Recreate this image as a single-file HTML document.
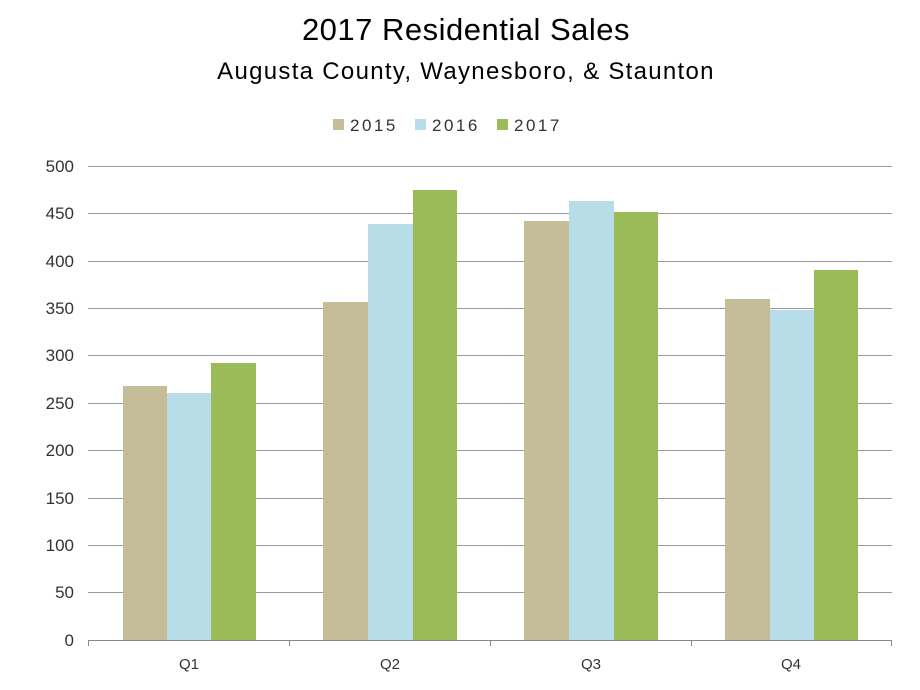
<!DOCTYPE html>
<html><head><meta charset="utf-8"><style>
body{margin:0;background:#fff;}
svg{display:block;font-family:"Liberation Sans",sans-serif;}
</style></head><body>
<svg width="920" height="690" viewBox="0 0 920 690">
<text x="466" y="40" text-anchor="middle" font-size="31" fill="#000" letter-spacing="0.5">2017 Residential Sales</text>
<text x="466" y="79" text-anchor="middle" font-size="24" fill="#000" letter-spacing="1.3">Augusta County, Waynesboro, &amp; Staunton</text>
<rect x="333" y="119" width="11" height="11" fill="#c4bd97"/>
<text x="350" y="131" font-size="17" fill="#333" letter-spacing="2.5">2015</text>
<rect x="415" y="119" width="11" height="11" fill="#b7dde8"/>
<text x="432" y="131" font-size="17" fill="#333" letter-spacing="2.5">2016</text>
<rect x="497" y="119" width="11" height="11" fill="#9bbb59"/>
<text x="514" y="131" font-size="17" fill="#333" letter-spacing="2.5">2017</text>
<g stroke="#9a9a9a" stroke-width="1">
<line x1="88" x2="892" y1="166.5" y2="166.5"/>
<line x1="88" x2="892" y1="213.5" y2="213.5"/>
<line x1="88" x2="892" y1="261.5" y2="261.5"/>
<line x1="88" x2="892" y1="308.5" y2="308.5"/>
<line x1="88" x2="892" y1="355.5" y2="355.5"/>
<line x1="88" x2="892" y1="403.5" y2="403.5"/>
<line x1="88" x2="892" y1="450.5" y2="450.5"/>
<line x1="88" x2="892" y1="498.5" y2="498.5"/>
<line x1="88" x2="892" y1="545.5" y2="545.5"/>
<line x1="88" x2="892" y1="592.5" y2="592.5"/>
</g>
<g font-size="17" fill="#333" text-anchor="end">
<text x="74" y="172">500</text><text x="74" y="219">450</text><text x="74" y="267">400</text>
<text x="74" y="314">350</text><text x="74" y="361">300</text><text x="74" y="409">250</text>
<text x="74" y="456">200</text><text x="74" y="504">150</text><text x="74" y="551">100</text>
<text x="74" y="598">50</text><text x="74" y="646">0</text>
</g>
<g>
<rect x="123" y="386" width="44" height="254" fill="#c4bd97"/>
<rect x="167" y="393" width="44" height="247" fill="#b7dde8"/>
<rect x="211" y="363" width="45" height="277" fill="#9bbb59"/>
<rect x="323" y="302" width="45" height="338" fill="#c4bd97"/>
<rect x="368" y="224" width="45" height="416" fill="#b7dde8"/>
<rect x="413" y="190" width="44" height="450" fill="#9bbb59"/>
<rect x="524" y="221" width="45" height="419" fill="#c4bd97"/>
<rect x="569" y="201" width="45" height="439" fill="#b7dde8"/>
<rect x="614" y="212" width="44" height="428" fill="#9bbb59"/>
<rect x="725" y="299" width="45" height="341" fill="#c4bd97"/>
<rect x="770" y="310" width="44" height="330" fill="#b7dde8"/>
<rect x="814" y="270" width="44" height="370" fill="#9bbb59"/>
</g>
<g stroke="#888" stroke-width="1">
<line x1="88" x2="892" y1="640.5" y2="640.5"/>
<line x1="88.5" x2="88.5" y1="640" y2="646"/>
<line x1="289.5" x2="289.5" y1="640" y2="646"/>
<line x1="490.5" x2="490.5" y1="640" y2="646"/>
<line x1="691.5" x2="691.5" y1="640" y2="646"/>
<line x1="891.5" x2="891.5" y1="640" y2="646"/>
</g>
<g font-size="15" fill="#333" text-anchor="middle">
<text x="189" y="669">Q1</text><text x="390" y="669">Q2</text>
<text x="591" y="669">Q3</text><text x="791" y="669">Q4</text>
</g>
</svg>
</body></html>
